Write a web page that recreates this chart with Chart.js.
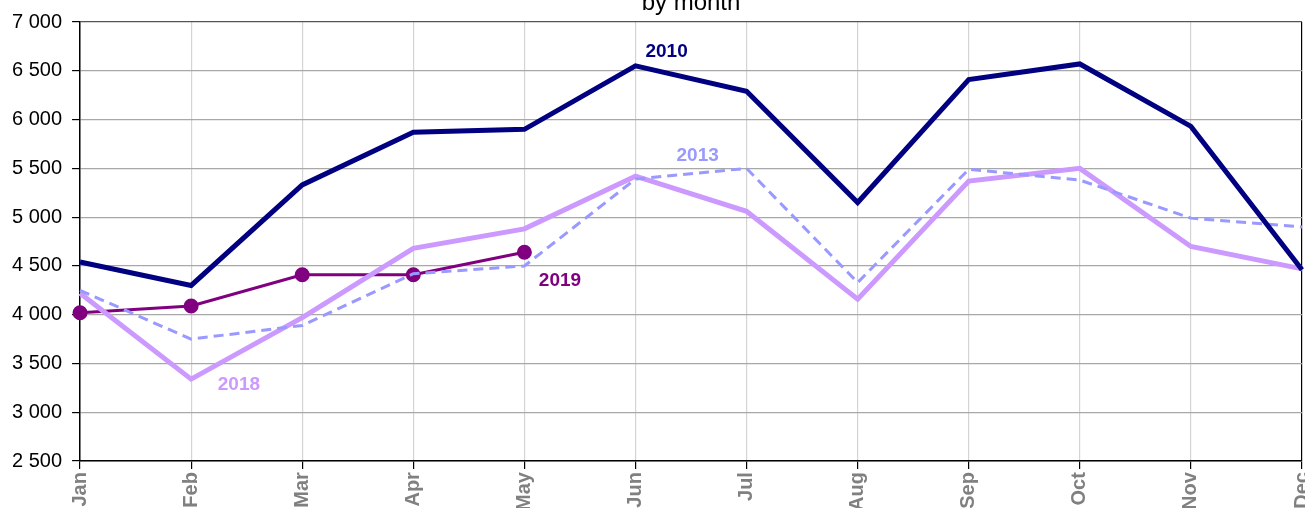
<!DOCTYPE html>
<html>
<head>
<meta charset="utf-8">
<script src="https://cdn.jsdelivr.net/npm/chart.js@4"></script>
<style>
  html, body { margin: 0; padding: 0; background: #fff; overflow: hidden; }
  #wrap { position: absolute; left: 0; top: 0; width: 1329px; height: 514px; }
</style>
</head>
<body>
<div id="wrap"><canvas id="lineChart"></canvas></div>
<script>
const months = ['Jan', 'Feb', 'Mar', 'Apr', 'May', 'Jun', 'Jul', 'Aug', 'Sep', 'Oct', 'Nov', 'Dec'];
const y2010 = [4540, 4300, 5330, 5870, 5900, 6550, 6290, 5150, 6410, 6570, 5930, 4460];
const y2013 = [4250, 3750, 3890, 4420, 4500, 5390, 5500, 4330, 5490, 5380, 4990, 4900];
const y2018 = [4220, 3340, 3970, 4680, 4880, 5420, 5060, 4160, 5370, 5500, 4700, 4470];
const y2019 = [4020, 4090, 4410, 4410, 4640];
const yTicks = [2500, 3000, 3500, 4000, 4500, 5000, 5500, 6000, 6500, 7000];

// series name labels drawn inside the plot
const seriesLabels = [
    { text: '2010', color: '#000080', at: [5.28, 6690] },
    { text: '2013', color: '#9999FF', at: [5.56, 5625] },
    { text: '2018', color: '#CC99FF', at: [1.43, 3280] },
    { text: '2019', color: '#800080', at: [4.32, 4345] }
];

const fmt = (v) => String(v).replace(/\B(?=(\d{3})+(?!\d))/g, ' ');

const labelPlugin = {
    id: 'seriesLabels',
    afterDatasetsDraw(chart) {
        const ctx = chart.ctx;
        const xs = chart.scales.x, ys = chart.scales.y;
        const step = xs.getPixelForValue(1) - xs.getPixelForValue(0);
        ctx.save();
        ctx.font = 'bold 19px "Liberation Sans", Arial, sans-serif';
        ctx.textAlign = 'center';
        ctx.textBaseline = 'middle';
        seriesLabels.forEach(l => {
            const i = Math.floor(l.at[0]);
            const x = xs.getPixelForValue(i) + (l.at[0] - i) * step;
            ctx.fillStyle = l.color;
            ctx.fillText(l.text, x, ys.getPixelForValue(l.at[1]));
        });
        // subtitle, centred over the plot area and cut by the top edge
        const a = chart.chartArea;
        ctx.font = '24px "Liberation Sans", Arial, sans-serif';
        ctx.fillStyle = '#000';
        ctx.textBaseline = 'alphabetic';
        ctx.fillText('by month', (a.left + a.right) / 2, 10);
        ctx.restore();
    }
};

document.addEventListener('DOMContentLoaded', () => {
    const ctx = document.getElementById('lineChart').getContext('2d');
    Chart.defaults.font.family = '"Liberation Sans", Arial, sans-serif';

    new Chart(ctx, {
        type: 'line',
        data: {
            labels: months,
            datasets: [
                { label: '2010', data: y2010, borderColor: '#000080', borderWidth: 5, pointRadius: 0 },
                { label: '2013', data: y2013, borderColor: '#9999FF', borderWidth: 3, borderDash: [10, 6], pointRadius: 0 },
                { label: '2018', data: y2018, borderColor: '#CC99FF', borderWidth: 5, pointRadius: 0 },
                { label: '2019', data: y2019, borderColor: '#800080', borderWidth: 3, pointRadius: 6,
                  pointBackgroundColor: '#800080', pointBorderColor: '#800080' }
            ]
        },
        options: {
            responsive: true,
            maintainAspectRatio: false,
            animation: false,
            layout: { padding: { left: 2, right: 0, top: 19, bottom: 0 } },
            elements: { line: { tension: 0 } },
            plugins: {
                legend: { display: false },
                tooltip: { enabled: false },
                title: { display: false }
            },
            scales: {
                x: {
                    offset: false,
                    grid: {
                        color: (c) => c.index === months.length - 1 ? '#000' : '#d4d4d4',
                        tickColor: '#000',
                        tickLength: 8,
                        lineWidth: 1.2
                    },
                    border: { color: '#000', width: 1.5 },
                    ticks: {
                        color: '#808080',
                        font: { size: 20, weight: 'bold' },
                        minRotation: 90,
                        maxRotation: 90,
                        padding: 3
                    }
                },
                y: {
                    min: 2500,
                    max: 7000,
                    afterBuildTicks: (axis) => { axis.ticks = yTicks.map(v => ({ value: v })); },
                    grid: {
                        color: (c) => c.tick && c.tick.value === 7000 ? '#555' : '#a8a8a8',
                        tickColor: '#000',
                        tickLength: 8,
                        lineWidth: 1.2
                    },
                    border: { color: '#000', width: 1.5 },
                    ticks: {
                        color: '#000',
                        font: { size: 20 },
                        padding: 10,
                        callback: (v) => fmt(v)
                    }
                }
            }
        },
        plugins: [labelPlugin]
    });
});
</script>
</body>
</html>
